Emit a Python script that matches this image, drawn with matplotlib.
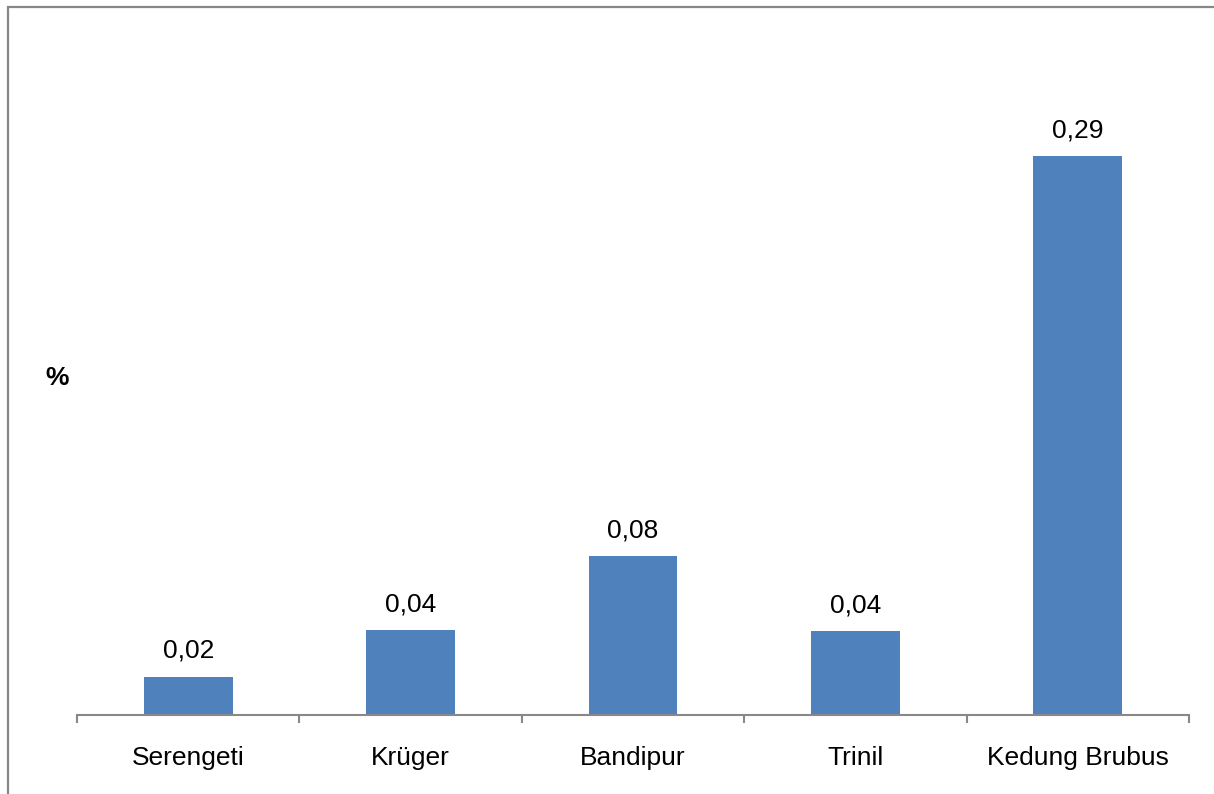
import matplotlib
matplotlib.use("Agg")
import matplotlib.pyplot as plt
from matplotlib.patches import Rectangle

categories = ["Serengeti", "Krüger", "Bandipur", "Trinil", "Kedung Brubus"]
values = [0.0199, 0.0441, 0.0825, 0.0434, 0.29]

plt.rcParams["font.family"] = ["Liberation Sans", "DejaVu Sans"]

W, H, DPI = 1214, 794, 100
fig = plt.figure(figsize=(W / DPI, H / DPI), dpi=DPI)

# outer chart frame (left and top edges visible)
fig.patches.append(Rectangle((8 / W, -0.1), 1.2, 1 - 7 / H + 0.1,
                             transform=fig.transFigure, fill=False,
                             edgecolor="#878787", linewidth=1.6))

left, right, base = 77, 1189, 715
ymax = 0.35
unit = 1927.6
top = base - ymax * unit
ax = fig.add_axes([left / W, 1 - base / H, (right - left) / W, (base - top) / H])

x = range(len(categories))
bars = ax.bar(x, values, width=0.4, color="#4F81BD")
ax.set_xlim(-0.5, len(categories) - 0.5)
ax.set_ylim(0, ymax)

for b, v in zip(bars, values):
    ax.annotate(f"{v:.2f}".replace(".", ","),
                (b.get_x() + b.get_width() / 2, v),
                xytext=(0, 10), textcoords="offset points",
                ha="center", va="bottom", fontsize=19)

for s in ["top", "right", "left"]:
    ax.spines[s].set_visible(False)
ax.spines["bottom"].set_color("#888888")
ax.spines["bottom"].set_linewidth(1.5)
ax.set_yticks([])
ax.set_xticks(list(x))
ax.set_xticklabels(categories, fontsize=19)
ax.tick_params(axis="x", which="major", length=0, pad=22.5)
ax.set_xticks([i - 0.5 for i in range(len(categories) + 1)], minor=True)
ax.tick_params(axis="x", which="minor", length=6, width=1.5, color="#888888",
               direction="out")

fig.text(57 / W, 1 - 378 / H, "%", fontsize=19, fontweight="bold",
         ha="center", va="center")

fig.savefig("out.png", dpi=DPI)
